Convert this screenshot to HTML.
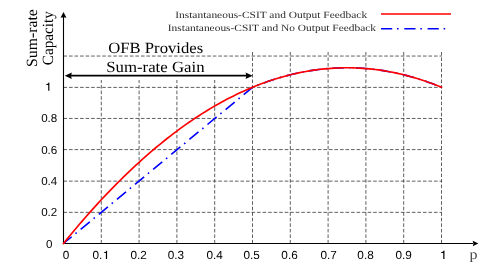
<!DOCTYPE html>
<html><head><meta charset="utf-8">
<style>
html,body{margin:0;padding:0;background:#fff;}
body{width:488px;height:273px;overflow:hidden;position:relative;}
svg{position:absolute;left:0;top:0;display:block;will-change:transform;}
text{font-family:"Liberation Sans",sans-serif;fill:#000;}
.tick text{font-size:11.6px;text-anchor:middle;text-rendering:geometricPrecision;}
.tick text.x{font-size:11.75px;text-anchor:start;}
.ser{font-family:"Liberation Serif",serif;text-rendering:geometricPrecision;}
</style></head><body>
<svg width="488" height="273" viewBox="0 0 488 273">
<rect width="488" height="273" fill="#fff"/>
<g stroke="#222" stroke-width="0.72" stroke-dasharray="3.6 1.93" fill="none">
<path d="M63.50 212.35H441.80M63.50 181.15H441.80M63.50 149.60H441.80M63.50 118.45H441.80M63.50 87.40H441.80M63.50 56.05H441.80"/>
<path d="M101.30 243.50V80.00M139.10 243.50V80.00M176.90 243.50V80.00M214.70 243.50V80.00"/>
<path d="M252.50 243.50V52.00M290.30 243.50V52.00M328.10 243.50V52.00M365.90 243.50V52.00M403.70 243.50V52.00M441.50 243.50V52.00"/>
</g>
<g stroke="#000" stroke-width="1.1" fill="none">
<path d="M63.5 244.00V17"/>
<path d="M62.95 243.55H473"/>
</g>
<path d="M70 75.7H247" stroke="#000" stroke-width="1.75" fill="none"/>
<g fill="#000" stroke="none">
<path d="M63.5 12L60.55 17.8Q63.5 16.6 66.45 17.8Z"/>
<path d="M478.4 243.5L472.7 240.65Q474 243.5 472.7 246.35Z"/>
<path d="M64.8 75.7L71.8 72.4Q70.4 75.7 71.8 79Z"/>
<path d="M252.6 75.7L245.6 72.4Q247 75.7 245.6 79Z"/>
</g>
<path d="M63.50 243.50L252.50 87.30L255.65 86.02L258.80 84.78L261.95 83.59L265.10 82.44L268.25 81.33L271.40 80.27L274.55 79.25L277.70 78.28L280.85 77.34L284.00 76.45L287.15 75.61L290.30 74.80L293.45 74.04L296.60 73.33L299.75 72.66L302.90 72.03L306.05 71.44L309.20 70.90L312.35 70.40L315.50 69.94L318.65 69.53L321.80 69.16L324.95 68.84L328.10 68.56L331.25 68.32L334.40 68.12L337.55 67.97L340.70 67.86L343.85 67.80L347.00 67.78L350.15 67.80L353.30 67.86L356.45 67.97L359.60 68.12L362.75 68.32L365.90 68.56L369.05 68.84L372.20 69.16L375.35 69.53L378.50 69.94L381.65 70.40L384.80 70.90L387.95 71.44L391.10 72.03L394.25 72.66L397.40 73.33L400.55 74.04L403.70 74.80L406.85 75.61L410.00 76.45L413.15 77.34L416.30 78.28L419.45 79.25L422.60 80.27L425.75 81.33L428.90 82.44L432.05 83.59L435.20 84.78L438.35 86.02L441.50 87.30" stroke="#0000ff" stroke-width="1.6" fill="none" stroke-dasharray="11.8 4.9 1.6 5.2" stroke-dashoffset="1.2"/>
<path d="M63.50 243.50L66.65 239.62L69.80 235.78L72.95 231.98L76.10 228.23L79.25 224.52L82.40 220.85L85.55 217.23L88.70 213.65L91.85 210.11L95.00 206.62L98.15 203.17L101.30 199.76L104.45 196.40L107.60 193.08L110.75 189.81L113.90 186.57L117.05 183.38L120.20 180.24L123.35 177.14L126.50 174.08L129.65 171.06L132.80 168.09L135.95 165.16L139.10 162.28L142.25 159.43L145.40 156.64L148.55 153.88L151.70 151.17L154.85 148.50L158.00 145.88L161.15 143.29L164.30 140.76L167.45 138.26L170.60 135.81L173.75 133.40L176.90 131.04L180.05 128.71L183.20 126.44L186.35 124.20L189.50 122.01L192.65 119.86L195.80 117.76L198.95 115.70L202.10 113.68L205.25 111.71L208.40 109.78L211.55 107.89L214.70 106.04L217.85 104.24L221.00 102.49L224.15 100.77L227.30 99.10L230.45 97.47L233.60 95.89L236.75 94.35L239.90 92.85L243.05 91.40L246.20 89.99L249.35 88.62L252.50 87.30L255.65 86.02L258.80 84.78L261.95 83.59L265.10 82.44L268.25 81.33L271.40 80.27L274.55 79.25L277.70 78.28L280.85 77.34L284.00 76.45L287.15 75.61L290.30 74.80L293.45 74.04L296.60 73.33L299.75 72.66L302.90 72.03L306.05 71.44L309.20 70.90L312.35 70.40L315.50 69.94L318.65 69.53L321.80 69.16L324.95 68.84L328.10 68.56L331.25 68.32L334.40 68.12L337.55 67.97L340.70 67.86L343.85 67.80L347.00 67.78L350.15 67.80L353.30 67.86L356.45 67.97L359.60 68.12L362.75 68.32L365.90 68.56L369.05 68.84L372.20 69.16L375.35 69.53L378.50 69.94L381.65 70.40L384.80 70.90L387.95 71.44L391.10 72.03L394.25 72.66L397.40 73.33L400.55 74.04L403.70 74.80L406.85 75.61L410.00 76.45L413.15 77.34L416.30 78.28L419.45 79.25L422.60 80.27L425.75 81.33L428.90 82.44L432.05 83.59L435.20 84.78L438.35 86.02L441.50 87.30" stroke="#ff0000" stroke-width="1.65" fill="none" stroke-linecap="square"/>
<path d="M381 13.95H451" stroke="#ff0000" stroke-width="1.6"/>
<path d="M381 28.8H446" stroke="#0000ff" stroke-width="1.55" stroke-dasharray="11.2 4.8 1.6 5.7"/>
<text class="ser" style="fill:#2a2a2a" x="175.2" y="17.5" font-size="9.6" textLength="192" lengthAdjust="spacingAndGlyphs">Instantaneous-CSIT and Output Feedback</text>
<text class="ser" style="fill:#2a2a2a" x="167.8" y="31.2" font-size="9.6" textLength="208.3" lengthAdjust="spacingAndGlyphs">Instantaneous-CSIT and No Output Feedback</text>
<text class="ser" x="108.2" y="52.7" font-size="15.6" textLength="95" lengthAdjust="spacingAndGlyphs">OFB Provides</text>
<text class="ser" x="106.2" y="71.7" font-size="15.6" textLength="98.4" lengthAdjust="spacingAndGlyphs">Sum-rate Gain</text>
<text class="ser" font-size="15.6" transform="translate(36.7 67) rotate(-90)" textLength="57.8" lengthAdjust="spacingAndGlyphs">Sum-rate</text>
<text class="ser" font-size="15.6" transform="translate(53.4 65.2) rotate(-90)" textLength="54" lengthAdjust="spacingAndGlyphs">Capacity</text>
<g class="tick"><text class="x" x="130.45" y="259.2">0.2</text><text class="x" x="167.70" y="259.2">0.3</text><text class="x" x="206.45" y="259.2">0.4</text><text class="x" x="243.55" y="259.2">0.5</text><text class="x" x="281.35" y="259.2">0.6</text><text class="x" x="320.45" y="259.2">0.7</text><text class="x" x="357.35" y="259.2">0.8</text><text class="x" x="395.45" y="259.2">0.9</text><text class="x" x="92.45" y="259.2">0.</text><text class="x" style="text-anchor:middle" x="66.1" y="259.2">0</text><text x="49.20" y="247.80">0</text><text x="49.20" y="216.40">0.2</text><text x="49.20" y="185.00">0.4</text><text x="49.20" y="153.60">0.6</text><text x="49.20" y="122.20">0.8</text></g>
<path d="M373 0L272 0L272 510L101 510L101 575C200 580 280 590 310 709L373 709Z" transform="translate(102.7 259.1) scale(0.01175 -0.01175)" fill="#000"/>
<path d="M373 0L272 0L272 510L101 510L101 575C200 580 280 590 310 709L373 709Z" transform="translate(439.95 259.1) scale(0.0121 -0.0121)" fill="#000"/>
<path d="M373 0L272 0L272 510L101 510L101 575C200 580 280 590 310 709L373 709Z" transform="translate(45.05 90.8) scale(0.0116 -0.0116)" fill="#000"/>
<text class="ser" transform="translate(469.4 258.9) scale(1.13 1)" font-size="14.2" style="fill:#4a4a4a">p</text>
</svg>
</body></html>
